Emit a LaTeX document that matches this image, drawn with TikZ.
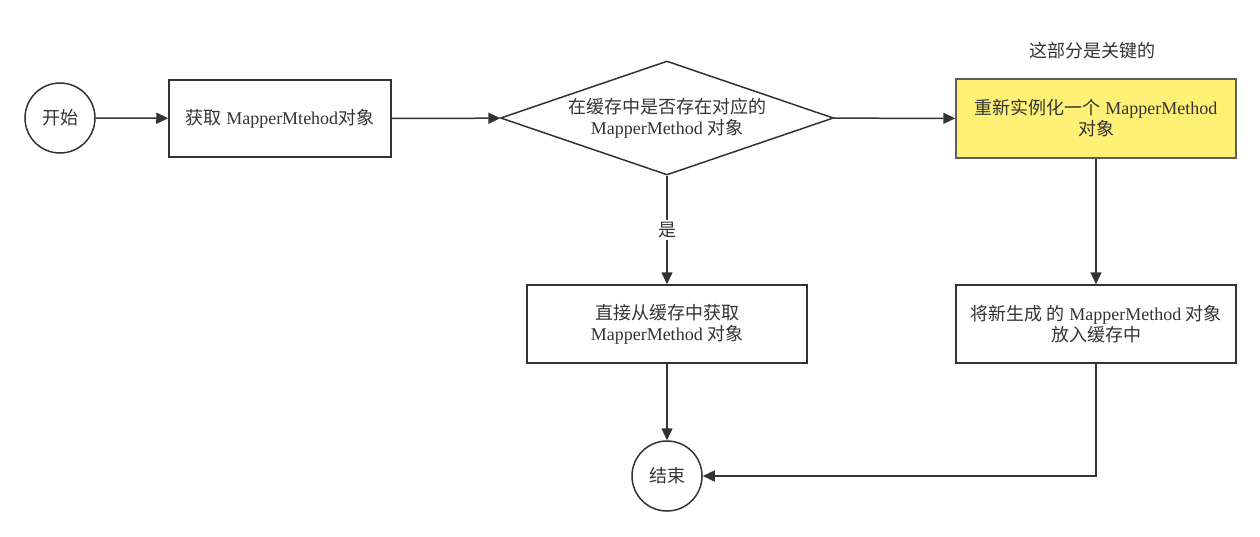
\documentclass[tikz,border=0pt]{standalone}
\usepackage{fontspec}
\setmainfont{Liberation Serif}
\newfontfamily\cjk{Noto Sans CJK SC}
\usetikzlibrary{shapes.geometric,arrows.meta}
\definecolor{ln}{HTML}{333333}
\definecolor{yel}{HTML}{FFF176}
\begin{document}
\begin{tikzpicture}[x=1pt,y=-1pt,
  every node/.style={font=\fontsize{18}{20}\selectfont, text=ln, align=center, inner sep=0pt},
  term/.style={circle, draw=ln, line width=1.5pt, minimum size=70pt},
  proc/.style={rectangle, draw=ln, line width=1.5pt, minimum width=222pt, minimum height=77pt},
  dec/.style={diamond, draw=ln, line width=1.5pt, aspect=2.92, minimum width=333pt, minimum height=114pt},
  conn/.style={draw=ln, line width=1.5pt, -{Triangle[length=12pt,width=11pt]}}]
\useasboundingbox (0,0) rectangle (1260,536);
\node[term] (start) at (60,118) {\cjk 开始};
\node[proc] (get) at (280,118.5) {{\cjk 获取} MapperMtehod{\cjk 对象}};
\node[dec] (check) at (667,118) {{\cjk 在缓存中是否存在对应的}\\[1pt]MapperMethod {\cjk 对象}};
\node[proc, minimum width=280pt, minimum height=79pt, fill=yel, draw=ln!80] (new) at (1096,118.5) {{\cjk 重新实例化一个} MapperMethod\\[1pt]{\cjk 对象}};
\node (note) at (1092,51) {\cjk 这部分是关键的};
\node[proc, minimum width=280pt, minimum height=78pt] (cache) at (667,324) {{\cjk 直接从缓存中获取}\\[1pt]MapperMethod {\cjk 对象}};
\node[proc, minimum width=280pt, minimum height=78pt] (put) at (1096,324) {{\cjk 将新生成} {\cjk 的} MapperMethod {\cjk 对象}\\[1pt]{\cjk 放入缓存中}};
\node[term] (end) at (667,476) {\cjk 结束};
\draw[conn] (start) -- (get);
\draw[conn] (get) -- (check);
\draw[conn] (check) -- (new);
\draw[conn] (check) -- node[fill=white, inner sep=2pt] (yes) {\cjk 是} (cache);
\draw[conn] (new) -- (put);
\draw[conn] (cache) -- (end);
\draw[conn] (put.south) |- (end.east);
\end{tikzpicture}
\end{document}
